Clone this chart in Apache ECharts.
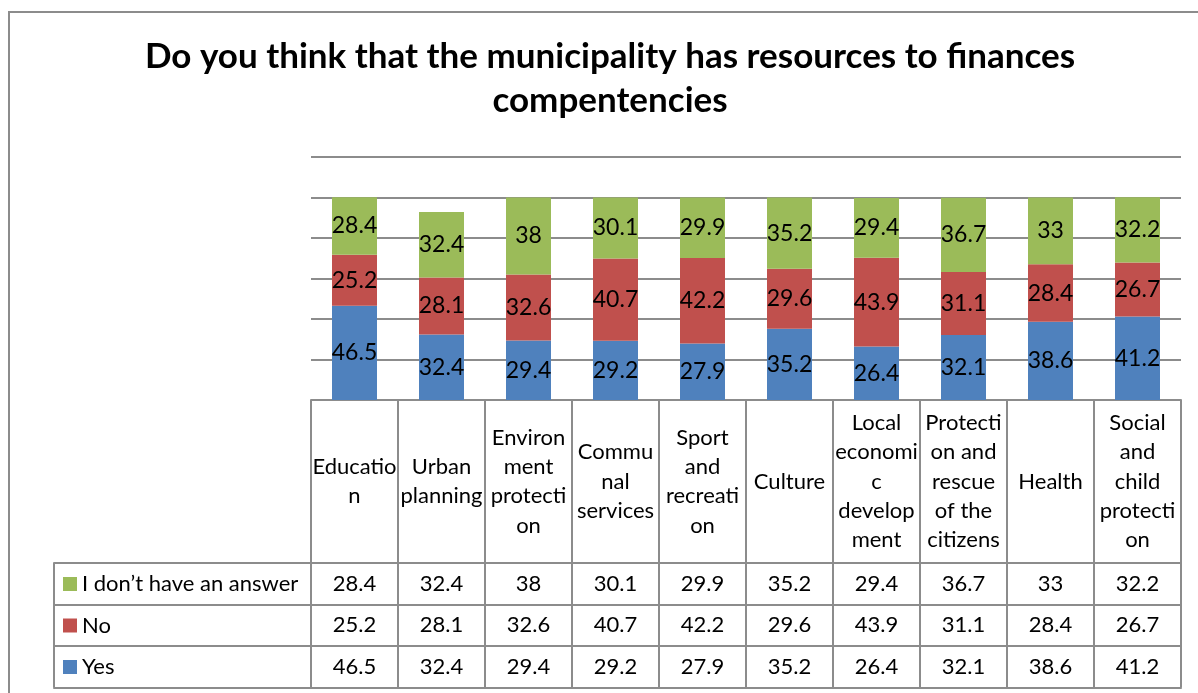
<!DOCTYPE html>
<html>
<head>
<meta charset="utf-8">
<script src="https://cdn.jsdelivr.net/npm/echarts@6/dist/echarts.min.js"></script>
<style>
  html, body { margin: 0; padding: 0; background: #fff; }
  #chart { width: 1198px; height: 693px; }
</style>
</head>
<body>
<div id="chart"></div>
<script>
// Survey results: share of answers per municipal competency (%)
const categories = [
  'Education', 'Urban planning', 'Environment protection', 'Communal services',
  'Sport and recreation', 'Culture', 'Local economic development',
  'Protection and rescue of the citizens', 'Health', 'Social and child protection'
];
// Header cell text, wrapped the way the table column shows it
const categoryLabels = [
  'Educatio\nn', 'Urban\nplanning', 'Environ\nment\nprotecti\non', 'Commu\nnal\nservices',
  'Sport\nand\nrecreati\non', 'Culture', 'Local\neconomi\nc\ndevelop\nment',
  'Protecti\non and\nrescue\nof the\ncitizens', 'Health', 'Social\nand\nchild\nprotecti\non'
];
const yesValues      = [46.5, 32.4, 29.4, 29.2, 27.9, 35.2, 26.4, 32.1, 38.6, 41.2];
const noValues       = [25.2, 28.1, 32.6, 40.7, 42.2, 29.6, 43.9, 31.1, 28.4, 26.7];
const noAnswerValues = [28.4, 32.4, 38, 30.1, 29.9, 35.2, 29.4, 36.7, 33, 32.2];
const yTicks = [0, 20, 40, 60, 80, 100, 120];

const seriesNames = ['I don’t have an answer', 'No', 'Yes'];
const rowValues = [noAnswerValues, noValues, yesValues];
const colors = { 'Yes': '#4f81bd', 'No': '#c0504d', 'I don’t have an answer': '#9bbb59' };

const FONT = 'Lato, "Noto Sans", sans-serif';
const LINE = '#8c8c8c';
const TEXT_SIZE = 22;

// table geometry (rows under the plot)
const headerH = 163;
const rowH = 41.5;

const lineStyle = { color: LINE, width: 2 };

function rowAxis(gridIndex, data, offset, values, tickLen) {
  return {
    type: 'category', gridIndex, data, position: 'bottom', offset,
    axisLine: { show: true, onZero: false, lineStyle },
    axisTick: { show: tickLen > 0, interval: 0, length: tickLen, lineStyle },
    axisLabel: {
      show: !!values, interval: 0, margin: rowH / 2, verticalAlign: 'middle',
      fontFamily: FONT, fontSize: TEXT_SIZE, color: '#000',
      formatter: (v, i) => values ? String(values[i]) : ''
    },
    splitLine: { show: false }
  };
}

const xAxes = [
  {
    type: 'category', gridIndex: 0, data: categories, position: 'bottom',
    axisLine: { show: true, onZero: false, lineStyle },
    axisTick: { show: true, interval: 0, length: headerH + rowH * 3, lineStyle },
    axisLabel: {
      interval: 0, margin: headerH / 2, verticalAlign: 'middle', align: 'center',
      fontFamily: FONT, fontSize: TEXT_SIZE, lineHeight: 29.3, color: '#000',
      formatter: (v, i) => categoryLabels[i]
    }
  }
];
// value rows of the data table
rowValues.forEach((vals, r) => xAxes.push(rowAxis(0, categories, headerH + rowH * r, vals, 0)));
xAxes.push(rowAxis(0, categories, headerH + rowH * 3, null, 0));
// legend column of the data table
xAxes.push(rowAxis(1, [''], headerH, null, rowH * 3));
for (let r = 1; r <= 3; r++) xAxes.push(rowAxis(1, [''], headerH + rowH * r, null, 0));

const barLabel = {
  show: true, position: 'inside', color: '#000',
  fontFamily: FONT, fontSize: 23
};

function barSeries(name, data) {
  return {
    name, type: 'bar', stack: 'total', data, barWidth: 45,
    xAxisIndex: 0, yAxisIndex: 0,
    itemStyle: { color: colors[name] },
    label: barLabel,
    emphasis: { disabled: true }
  };
}

const chart = echarts.init(document.getElementById('chart'), null, { renderer: 'canvas' });
chart.setOption({
  animation: false,
  backgroundColor: '#fff',
  title: {
    text: 'Do you think that the municipality has resources to finances\ncompentencies',
    left: 610, top: 35, padding: 0, textAlign: 'center',
    textStyle: { fontFamily: FONT, fontWeight: 'bold', fontSize: 35, lineHeight: 44, color: '#000' }
  },
  legend: {
    data: seriesNames, orient: 'vertical', left: 63, top: 573, padding: 0,
    icon: 'rect', itemWidth: 14, itemHeight: 14, itemGap: rowH - TEXT_SIZE,
    selectedMode: false,
    textStyle: { fontFamily: FONT, fontSize: TEXT_SIZE, lineHeight: TEXT_SIZE, color: '#000' }
  },
  grid: [
    { left: 311, right: 17, top: 157, bottom: 293 },
    { left: 54, width: 257, top: 157, bottom: 293 }
  ],
  xAxis: xAxes,
  yAxis: [
    {
      type: 'value', gridIndex: 0, min: yTicks[0], max: yTicks[yTicks.length - 1], interval: 20,
      axisLine: { show: false }, axisTick: { show: false }, axisLabel: { show: false },
      splitLine: { show: true, lineStyle }
    },
    { type: 'value', gridIndex: 1, show: false, min: 0, max: 120 }
  ],
  graphic: [
    {
      type: 'rect', silent: true, z: -1,
      shape: { x: 9, y: 12, width: 1300, height: 800 },
      style: { fill: 'none', stroke: LINE, lineWidth: 2 }
    }
  ],
  series: [
    barSeries('Yes', yesValues),
    barSeries('No', noValues),
    barSeries('I don’t have an answer', noAnswerValues)
  ]
});
</script>
</body>
</html>
